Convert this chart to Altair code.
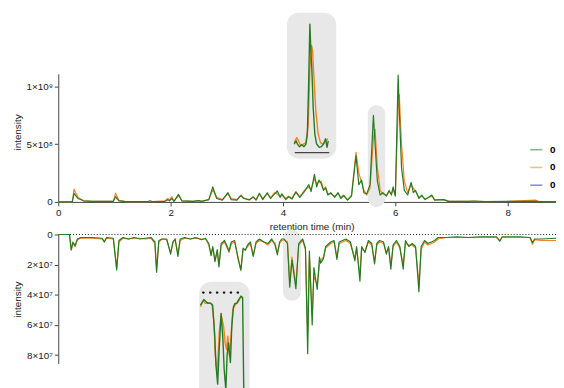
import altair as alt
import pandas as pd

# ---------------- data ----------------
# top panel: retention time (min) and intensity (x 1e8)
top_t = [0.00, 0.25, 0.28, 0.35, 0.45, 0.60, 0.98, 1.02, 1.08, 1.20,
         1.60, 1.63, 1.68, 1.90, 1.95, 1.98, 2.02, 2.06, 2.14, 2.20,
         2.40, 2.50, 2.55, 2.68, 2.75, 2.82, 2.92, 3.02, 3.08, 3.18,
         3.25, 3.30, 3.40, 3.47, 3.52, 3.58, 3.64, 3.72, 3.78, 3.85,
         3.90, 3.95, 3.98, 4.05, 4.10, 4.16, 4.23, 4.30, 4.38, 4.46,
         4.50, 4.56, 4.60, 4.64, 4.68, 4.72, 4.76, 4.80, 4.85, 4.92,
         4.98, 5.03, 5.08, 5.15, 5.22, 5.30, 5.35, 5.40, 5.44, 5.49,
         5.55, 5.61, 5.64, 5.68, 5.73, 5.78, 5.84, 5.89, 5.93, 5.96,
         6.00, 6.05, 6.07, 6.11, 6.16, 6.22, 6.28, 6.32, 6.36, 6.42,
         6.47, 6.53, 6.65, 6.70, 6.86, 6.95, 7.30, 7.40, 7.60, 8.00,
         8.50, 8.55, 8.86]
top_green = [0, 0, 0.75, 0.3, 0.1, 0.05, 0.05, 0.45, 0.1, 0.03,
             0.02, 0.1, 0.02, 0.05, 0.2, 0.1, 0.3, 0.05, 0.65, 0.1,
             0.05, 0.12, 0.05, 0.2, 1.3, 0.3, 0.15, 0.8, 0.2, 0.15,
             0.55, 0.3, 0.2, 0.45, 0.15, 0.75, 0.2, 0.8, 0.3, 0.7,
             0.95, 0.4, 0.7, 0.2, 0.45, 0.25, 0.85, 0.4, 0.9, 1.5,
             0.9, 2.4, 1.3, 1.9, 1.6, 1.0, 1.2, 0.6, 0.8, 0.4,
             0.8, 0.3, 0.55, 0.15, 0.5, 4.0, 1.5, 1.9, 0.8, 0.7,
             1.5, 7.5, 5.0, 1.8, 0.6, 0.8, 0.5, 1.0, 0.6, 1.3,
             0.5, 11.0, 8.0, 3.0, 1.0, 0.6, 1.7, 0.8, 1.0, 0.3,
             0.6, 0.2, 0.6, 0.15, 0.2, 0.05, 0.05, 0.08, 0.03, 0.05,
             0.05, 0.03, 0.03]
top_orange = [0, 0, 1.1, 0.4, 0.1, 0.05, 0.05, 0.75, 0.15, 0.03,
              0.02, 0.08, 0.02, 0.1, 0.3, 0.15, 0.45, 0.08, 0.55, 0.1,
              0.05, 0.1, 0.05, 0.2, 1.05, 0.4, 0.2, 0.7, 0.3, 0.2,
              0.6, 0.35, 0.15, 0.4, 0.2, 0.7, 0.3, 0.7, 0.35, 0.8,
              0.7, 0.45, 0.6, 0.3, 0.5, 0.3, 0.9, 0.45, 1.0, 1.3,
              1.1, 2.0, 1.6, 1.7, 1.8, 1.1, 1.3, 0.7, 0.7, 0.5,
              0.7, 0.4, 0.6, 0.2, 0.6, 4.3, 2.5, 1.7, 1.0, 0.6,
              1.2, 5.5, 6.3, 3.0, 1.0, 0.7, 0.6, 0.9, 0.7, 1.1,
              0.6, 8.0, 9.3, 5.0, 1.8, 0.8, 1.5, 1.2, 0.9, 0.4,
              0.5, 0.25, 0.5, 0.2, 0.2, 0.05, 0.05, 0.05, 0.03, 0.05,
              0.15, 0.05, 0.03]

# bottom (mirrored) panel: intensity (x 1e7)
bot_t = [0.00, 0.20, 0.23, 0.26, 0.30, 0.34, 0.40, 0.60, 0.78, 0.82,
         0.86, 0.98, 1.04, 1.08, 1.15, 1.25, 1.35, 1.45, 1.55, 1.65,
         1.72, 1.75, 1.79, 1.85, 1.93, 2.00, 2.04, 2.08, 2.13, 2.17,
         2.25, 2.35, 2.45, 2.55, 2.62, 2.68, 2.72, 2.75, 2.79, 2.83,
         2.86, 2.90, 2.96, 3.04, 3.08, 3.14, 3.20, 3.25, 3.29, 3.33,
         3.37, 3.42, 3.47, 3.52, 3.58, 3.66, 3.73, 3.80, 3.86, 3.90,
         3.94, 3.98, 4.02, 4.08, 4.12, 4.16, 4.23, 4.28, 4.35, 4.40,
         4.44, 4.47, 4.52, 4.55, 4.61, 4.65, 4.67, 4.72, 4.76, 4.85,
         4.91, 4.96, 5.00, 5.06, 5.12, 5.20, 5.28, 5.31, 5.37, 5.40,
         5.46, 5.52, 5.58, 5.63, 5.67, 5.72, 5.79, 5.84, 5.88, 5.92,
         5.96, 6.02, 6.08, 6.14, 6.18, 6.24, 6.30, 6.36, 6.42, 6.46,
         6.52, 6.58, 6.64, 6.70, 6.76, 6.90, 7.10, 7.30, 7.50, 7.80,
         7.86, 7.90, 8.20, 8.40, 8.44, 8.48, 8.60, 8.86]
bot_green = [0, 0, 1.0, 0.5, 0.75, 0.3, 0.2, 0.2, 0.25, 0.5,
             0.2, 0.25, 2.35, 0.4, 0.2, 0.3, 0.2, 0.3, 0.25, 0.2,
             0.5, 2.5, 0.4, 0.3, 0.3, 1.3, 0.5, 0.3, 1.45, 0.3,
             0.2, 0.3, 0.2, 0.35, 0.25, 0.6, 1.4, 0.8, 1.8, 1.0,
             2.15, 0.6, 0.4, 1.1, 0.5, 0.4, 1.6, 2.35, 0.9, 1.05,
             0.7, 0.5, 1.45, 0.5, 0.3, 0.5, 0.6, 0.3, 0.7, 1.35,
             0.5, 0.3, 0.3, 0.6, 3.5, 1.7, 3.6, 0.6, 0.3, 0.9,
             7.9, 1.1, 6.0, 2.2, 3.65, 1.5, 1.9, 1.6, 0.8, 0.5,
             0.4, 1.65, 0.5, 0.4, 0.3, 0.5, 1.75, 0.8, 3.1, 0.8,
             1.2, 0.4, 0.6, 1.95, 0.6, 0.4, 0.5, 1.3, 0.8, 2.3,
             0.7, 0.4, 0.8, 2.3, 0.4, 0.8, 0.6, 0.8, 3.8, 0.8,
             0.4, 0.6, 0.5, 0.4, 0.2, 0.2, 0.15, 0.2, 0.15, 0.15,
             0.45, 0.15, 0.15, 0.2, 0.55, 0.3, 0.3, 0.25]
bot_orange = [0, 0, 1.05, 0.6, 0.8, 0.35, 0.25, 0.25, 0.3, 0.45,
              0.25, 0.3, 2.2, 0.5, 0.25, 0.3, 0.25, 0.25, 0.3, 0.25,
              0.6, 2.3, 0.5, 0.3, 0.35, 1.2, 0.6, 0.3, 1.3, 0.4,
              0.25, 0.3, 0.25, 0.3, 0.3, 0.7, 1.3, 0.9, 1.7, 1.1,
              2.0, 0.7, 0.5, 1.2, 0.6, 0.5, 1.5, 2.4, 1.0, 1.0,
              0.8, 0.6, 1.4, 0.6, 0.4, 0.5, 0.7, 0.4, 0.6, 1.2,
              0.6, 0.4, 0.35, 0.5, 3.2, 1.5, 3.3, 0.7, 0.4, 1.0,
              6.5, 1.5, 5.3, 2.8, 3.3, 2.0, 1.7, 1.5, 0.9, 0.6,
              0.5, 1.5, 0.6, 0.5, 0.4, 0.6, 1.6, 0.9, 2.7, 1.0,
              1.1, 0.5, 0.7, 1.8, 0.7, 0.5, 0.6, 1.2, 0.9, 2.1,
              0.8, 0.5, 0.9, 2.0, 0.6, 0.7, 0.7, 0.9, 3.3, 1.0,
              0.5, 0.7, 0.6, 0.5, 0.3, 0.2, 0.2, 0.2, 0.2, 0.2,
              0.4, 0.2, 0.2, 0.2, 0.65, 0.35, 0.4, 0.4]

# zoom inset of the top panel (x 1e8)
ins_top_t_green = [5.474, 5.491, 5.503, 5.520, 5.540, 5.560, 5.577, 5.589, 5.600, 5.611,
                   5.620, 5.628, 5.640, 5.654, 5.669, 5.692, 5.711, 5.731, 5.748, 5.760, 5.771]
ins_top_green = [0.50, 0.69, 0.50, 0.35, 0.46, 0.35, 0.50, 1.10, 3.98, 7.52,
                 5.89, 4.92, 2.61, 1.10, 0.52, 0.31, 0.35, 0.52, 0.81, 0.31, 0.69]
ins_top_t_orange = [5.474, 5.497, 5.512, 5.531, 5.555, 5.577, 5.597, 5.611, 5.626, 5.634,
                    5.645, 5.663, 5.683, 5.703, 5.726, 5.748, 5.769]
ins_top_orange = [0.59, 0.88, 0.69, 0.40, 0.50, 0.59, 1.67, 4.92, 6.27, 6.00,
                  4.56, 2.42, 1.10, 0.59, 0.50, 0.69, 0.81]

# zoom inset of the bottom panel (x 1e7)
ins_bot_t_green = [4.002, 4.026, 4.043, 4.057, 4.073, 4.090, 4.105, 4.114, 4.126, 4.137,
                   4.151, 4.164, 4.173, 4.185, 4.194, 4.204, 4.218, 4.228, 4.240, 4.251,
                   4.263, 4.275, 4.294, 4.306, 4.315]
ins_bot_green = [0.49, 0.27, 0.36, 0.42, 0.40, 0.49, 1.69, 2.85, 3.57, 2.22,
                 0.81, 1.83, 2.99, 3.8, 2.46, 1.96, 2.73, 1.32, 0.55, 0.42,
                 0.42, 0.30, 0.14, 0.19, 4.1]
ins_bot_t_orange = [4.002, 4.021, 4.038, 4.062, 4.085, 4.100, 4.109, 4.123, 4.137, 4.151,
                    4.169, 4.180, 4.190, 4.199, 4.211, 4.223, 4.235, 4.251, 4.275, 4.294, 4.306]
ins_bot_orange = [0.55, 0.32, 0.42, 0.40, 0.45, 1.19, 2.46, 3.12, 1.58, 0.87,
                  1.32, 1.96, 2.22, 1.70, 2.47, 1.64, 0.68, 0.49, 0.36, 0.14, 0.23]

# highlighted (zoomed) windows: [t0, t1]
top_zoom_window = [5.51, 5.82]
bot_zoom_window = [4.00, 4.32]

series_keys = ["green", "orange", "blue"]
series_colors = ["#237b23", "#f58220", "#2f2fc8"]

# ---------------- layout ----------------
W, H = 505, 380
FONT = "Liberation Sans"

X_MAIN = alt.Scale(domain=[0, 8.86], range=[0, W], nice=False, zero=False)
Y_TOP = alt.Scale(domain=[0, 1.11e9], range=[194, 64], nice=False, zero=False)
Y_BOT = alt.Scale(domain=[0, 8.56e7], range=[227, 358], nice=False, zero=False)
X_INS_TOP = alt.Scale(domain=[5.48, 5.78], range=[240, 275], nice=False, zero=False)
Y_INS_TOP = alt.Scale(domain=[0, 7.5e8], range=[144, 14], nice=False, zero=False)
X_INS_BOT = alt.Scale(domain=[4.0, 4.32], range=[144, 189], nice=False, zero=False)
Y_INS_BOT = alt.Scale(domain=[0, 4e7], range=[286, 390], nice=False, zero=False)

color_enc = alt.Color(
    "s:N",
    scale=alt.Scale(domain=series_keys, range=series_colors),
    legend=alt.Legend(
        title=None, orient="none", legendX=478, legendY=134, padding=0,
        symbolType="stroke", symbolSize=150, symbolStrokeWidth=1.6,
        symbolOpacity=0.55, labelExpr="'0'", labelFontWeight="bold",
        labelFontSize=10, labelOffset=7, rowPadding=6, labelFont=FONT,
    ),
)


def frame(t, v, s, k):
    return pd.DataFrame({"t": t, "v": [x * k for x in v], "s": s})


def line(df, xs, ys, xaxis=None, yaxis=None, w=1.2):
    return alt.Chart(df).mark_line(strokeWidth=w, strokeJoin="round").encode(
        x=alt.X("t:Q", scale=xs, axis=xaxis),
        y=alt.Y("v:Q", scale=ys, axis=yaxis),
        color=color_enc,
    )


def box(t0, t1, v0, v1, xs, ys, r):
    df = pd.DataFrame({"t0": [t0], "t1": [t1], "v0": [v0], "v1": [v1]})
    return alt.Chart(df).mark_rect(cornerRadius=r, color="#e8e8e8").encode(
        x=alt.X("t0:Q", scale=xs, axis=None), x2="t1:Q",
        y=alt.Y("v0:Q", scale=ys, axis=None), y2="v1:Q",
    )


def hline(t0, t1, xs, ys, **style):
    df = pd.DataFrame({"t0": [t0], "t1": [t1], "v": [0]})
    return alt.Chart(df).mark_rule(**style).encode(
        x=alt.X("t0:Q", scale=xs, axis=None), x2="t1:Q",
        y=alt.Y("v:Q", scale=ys, axis=None),
    )


x_axis = alt.Axis(
    orient="bottom", offset=-(H - 194), values=[0, 2, 4, 6, 8], format="d",
    title="retention time (min)", titleX=257, labelFlush=False,
)
y_axis_top = alt.Axis(
    orient="left", values=[0, 5e8, 1e9], title="intensity", titleY=123,
    labelExpr="datum.value == 0 ? '0' : (datum.value < 7e8 ? '5×10⁸' : '1×10⁹')",
)
y_axis_bot = alt.Axis(
    orient="left", values=[0, 2e7, 4e7, 6e7, 8e7], title="intensity",
    labelExpr="datum.value == 0 ? '0' : format(datum.value / 1e7, 'd') + '×10⁷'",
)

layers = [
    # grey highlight of the zoomed windows
    box(top_zoom_window[0], top_zoom_window[1], -0.43e8, 8.38e8, X_MAIN, Y_TOP, 9),
    box(bot_zoom_window[0], bot_zoom_window[1], -0.33e7, 4.38e7, X_MAIN, Y_BOT, 9),
    # main traces
    line(frame(top_t, top_orange, "orange", 1e8), X_MAIN, Y_TOP, x_axis, y_axis_top),
    line(frame(top_t, top_green, "green", 1e8), X_MAIN, Y_TOP),
    hline(0, 8.86, X_MAIN, Y_BOT, color="#222", strokeDash=[1, 2], strokeWidth=1.2),
    line(frame(bot_t, bot_orange, "orange", 1e7), X_MAIN, Y_BOT, None, y_axis_bot),
    line(frame(bot_t, bot_green, "green", 1e7), X_MAIN, Y_BOT),
    # inset of the top panel
    box(5.411, 5.84, -0.35e8, 8.19e8, X_INS_TOP, Y_INS_TOP, 12),
    hline(5.48, 5.78, X_INS_TOP, Y_INS_TOP, color="#444", strokeWidth=1.3),
    line(frame(ins_top_t_orange, ins_top_orange, "orange", 1e8), X_INS_TOP, Y_INS_TOP, w=1.4),
    line(frame(ins_top_t_green, ins_top_green, "green", 1e8), X_INS_TOP, Y_INS_TOP, w=1.4),
    # inset of the bottom panel
    box(3.993, 4.356, -0.42e7, 4.6e7, X_INS_BOT, Y_INS_BOT, 12),
    hline(4.021, 4.306, X_INS_BOT, Y_INS_BOT, color="#111", strokeDash=[0.5, 6.5],
          strokeWidth=2.2, strokeCap="round"),
    line(frame(ins_bot_t_orange, ins_bot_orange, "orange", 1e7), X_INS_BOT, Y_INS_BOT, w=1.4),
    line(frame(ins_bot_t_green, ins_bot_green, "green", 1e7), X_INS_BOT, Y_INS_BOT, w=1.4),
]

chart = (
    alt.layer(*layers)
    .resolve_scale(x="independent", y="independent")
    .properties(
        width=W, height=H,
        autosize=alt.AutoSizeParams(type="none"),
        padding={"left": 51, "top": 0, "right": 0, "bottom": 0},
    )
    .configure_view(stroke=None)
    .configure_axis(
        grid=False, labelFont=FONT, titleFont=FONT, labelFontSize=10,
        titleFontSize=10, titleFontWeight="normal", labelColor="#222",
        titleColor="#222", domainColor="#444", tickColor="#444",
        tickSize=4, labelPadding=2, titlePadding=4,
    )
)

chart.save("out.html", embed_options={"renderer": "svg", "actions": False})
